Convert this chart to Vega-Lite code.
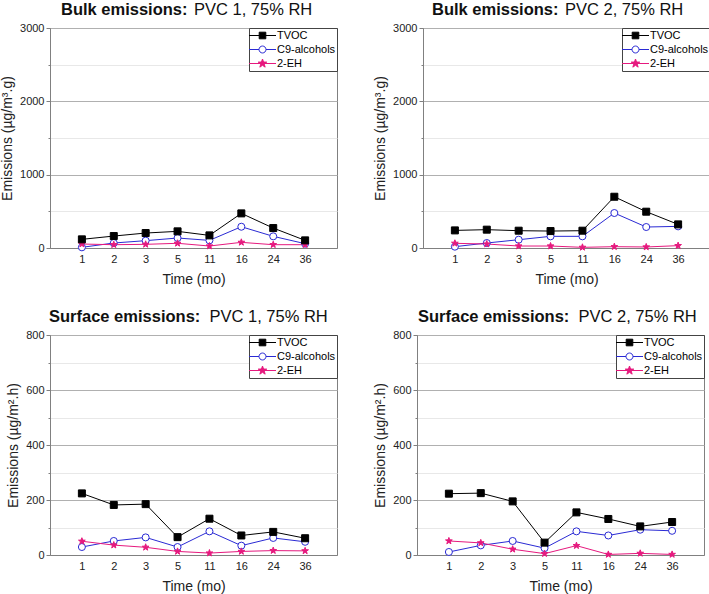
{
  "$schema": "https://vega.github.io/schema/vega-lite/v6.json",
  "padding": {"left": 0, "top": 1, "right": 0, "bottom": 0},
  "background": "white",
  "data": {"values": [
    {"panel":"B1","time":"1","series":"C9-alcohols","value":9},
    {"panel":"B1","time":"2","series":"C9-alcohols","value":68},
    {"panel":"B1","time":"3","series":"C9-alcohols","value":100},
    {"panel":"B1","time":"5","series":"C9-alcohols","value":136},
    {"panel":"B1","time":"11","series":"C9-alcohols","value":104},
    {"panel":"B1","time":"16","series":"C9-alcohols","value":290},
    {"panel":"B1","time":"24","series":"C9-alcohols","value":159},
    {"panel":"B1","time":"36","series":"C9-alcohols","value":59},
    {"panel":"B1","time":"1","series":"2-EH","value":54},
    {"panel":"B1","time":"2","series":"2-EH","value":45},
    {"panel":"B1","time":"3","series":"2-EH","value":50},
    {"panel":"B1","time":"5","series":"2-EH","value":64},
    {"panel":"B1","time":"11","series":"2-EH","value":27},
    {"panel":"B1","time":"16","series":"2-EH","value":77},
    {"panel":"B1","time":"24","series":"2-EH","value":45},
    {"panel":"B1","time":"36","series":"2-EH","value":45},
    {"panel":"B1","time":"1","series":"TVOC","value":118},
    {"panel":"B1","time":"2","series":"TVOC","value":163},
    {"panel":"B1","time":"3","series":"TVOC","value":204},
    {"panel":"B1","time":"5","series":"TVOC","value":227},
    {"panel":"B1","time":"11","series":"TVOC","value":172},
    {"panel":"B1","time":"16","series":"TVOC","value":472},
    {"panel":"B1","time":"24","series":"TVOC","value":272},
    {"panel":"B1","time":"36","series":"TVOC","value":104},

    {"panel":"B2","time":"1","series":"C9-alcohols","value":18},
    {"panel":"B2","time":"2","series":"C9-alcohols","value":68},
    {"panel":"B2","time":"3","series":"C9-alcohols","value":113},
    {"panel":"B2","time":"5","series":"C9-alcohols","value":159},
    {"panel":"B2","time":"11","series":"C9-alcohols","value":159},
    {"panel":"B2","time":"16","series":"C9-alcohols","value":477},
    {"panel":"B2","time":"24","series":"C9-alcohols","value":286},
    {"panel":"B2","time":"36","series":"C9-alcohols","value":295},
    {"panel":"B2","time":"1","series":"2-EH","value":64},
    {"panel":"B2","time":"2","series":"2-EH","value":54},
    {"panel":"B2","time":"3","series":"2-EH","value":27},
    {"panel":"B2","time":"5","series":"2-EH","value":27},
    {"panel":"B2","time":"11","series":"2-EH","value":9},
    {"panel":"B2","time":"16","series":"2-EH","value":18},
    {"panel":"B2","time":"24","series":"2-EH","value":14},
    {"panel":"B2","time":"36","series":"2-EH","value":32},
    {"panel":"B2","time":"1","series":"TVOC","value":240},
    {"panel":"B2","time":"2","series":"TVOC","value":250},
    {"panel":"B2","time":"3","series":"TVOC","value":236},
    {"panel":"B2","time":"5","series":"TVOC","value":231},
    {"panel":"B2","time":"11","series":"TVOC","value":236},
    {"panel":"B2","time":"16","series":"TVOC","value":699},
    {"panel":"B2","time":"24","series":"TVOC","value":495},
    {"panel":"B2","time":"36","series":"TVOC","value":322},

    {"panel":"S1","time":"1","series":"C9-alcohols","value":29},
    {"panel":"S1","time":"2","series":"C9-alcohols","value":51},
    {"panel":"S1","time":"3","series":"C9-alcohols","value":64},
    {"panel":"S1","time":"5","series":"C9-alcohols","value":29},
    {"panel":"S1","time":"11","series":"C9-alcohols","value":86},
    {"panel":"S1","time":"16","series":"C9-alcohols","value":34},
    {"panel":"S1","time":"24","series":"C9-alcohols","value":62},
    {"panel":"S1","time":"36","series":"C9-alcohols","value":48},
    {"panel":"S1","time":"1","series":"2-EH","value":50},
    {"panel":"S1","time":"2","series":"2-EH","value":36},
    {"panel":"S1","time":"3","series":"2-EH","value":28},
    {"panel":"S1","time":"5","series":"2-EH","value":13},
    {"panel":"S1","time":"11","series":"2-EH","value":7},
    {"panel":"S1","time":"16","series":"2-EH","value":13},
    {"panel":"S1","time":"24","series":"2-EH","value":16},
    {"panel":"S1","time":"36","series":"2-EH","value":15},
    {"panel":"S1","time":"1","series":"TVOC","value":224},
    {"panel":"S1","time":"2","series":"TVOC","value":182},
    {"panel":"S1","time":"3","series":"TVOC","value":185},
    {"panel":"S1","time":"5","series":"TVOC","value":65},
    {"panel":"S1","time":"11","series":"TVOC","value":132},
    {"panel":"S1","time":"16","series":"TVOC","value":71},
    {"panel":"S1","time":"24","series":"TVOC","value":84},
    {"panel":"S1","time":"36","series":"TVOC","value":61},

    {"panel":"S2","time":"1","series":"C9-alcohols","value":11},
    {"panel":"S2","time":"2","series":"C9-alcohols","value":35},
    {"panel":"S2","time":"3","series":"C9-alcohols","value":51},
    {"panel":"S2","time":"5","series":"C9-alcohols","value":25},
    {"panel":"S2","time":"11","series":"C9-alcohols","value":86},
    {"panel":"S2","time":"16","series":"C9-alcohols","value":71},
    {"panel":"S2","time":"24","series":"C9-alcohols","value":92},
    {"panel":"S2","time":"36","series":"C9-alcohols","value":88},
    {"panel":"S2","time":"1","series":"2-EH","value":51},
    {"panel":"S2","time":"2","series":"2-EH","value":44},
    {"panel":"S2","time":"3","series":"2-EH","value":21},
    {"panel":"S2","time":"5","series":"2-EH","value":5},
    {"panel":"S2","time":"11","series":"2-EH","value":34},
    {"panel":"S2","time":"16","series":"2-EH","value":2},
    {"panel":"S2","time":"24","series":"2-EH","value":6},
    {"panel":"S2","time":"36","series":"2-EH","value":2},
    {"panel":"S2","time":"1","series":"TVOC","value":223},
    {"panel":"S2","time":"2","series":"TVOC","value":225},
    {"panel":"S2","time":"3","series":"TVOC","value":195},
    {"panel":"S2","time":"5","series":"TVOC","value":45},
    {"panel":"S2","time":"11","series":"TVOC","value":155},
    {"panel":"S2","time":"16","series":"TVOC","value":131},
    {"panel":"S2","time":"24","series":"TVOC","value":104},
    {"panel":"S2","time":"36","series":"TVOC","value":120}
  ]},
  "resolve": {"scale": {"color": "independent", "stroke": "independent", "fill": "independent", "shape": "independent", "size": "independent"}, "legend": {"stroke": "independent", "fill": "independent", "shape": "independent"}},
  "vconcat": [
    {"resolve": {"scale": {"color": "independent", "stroke": "independent", "fill": "independent", "shape": "independent", "size": "independent"}, "legend": {"stroke": "independent", "fill": "independent", "shape": "independent"}},
     "hconcat": [
      {
        "width": 287, "height": 220,
        "title": {"text": "Bulk emissions:", "subtitle": "\u200b\u00a0\u00a0\u00a0\u00a0\u00a0\u00a0\u00a0\u00a0\u00a0\u00a0\u00a0\u00a0\u00a0\u00a0\u00a0\u00a0\u00a0\u00a0\u00a0\u00a0\u00a0\u00a0\u00a0\u00a0\u00a0\u00a0\u00a0\u00a0\u00a0PVC 1, 75% RH", "dx": 11},
        "transform": [{"filter": "datum.panel === 'B1'"}],
        "resolve": {"scale": {"shape": "independent", "stroke": "independent", "fill": "independent", "color": "independent"}},
        "encoding": {
          "x": {"field": "time", "type": "ordinal", "sort": ["1","2","3","5","11","16","24","36"], "scale": {"type": "point", "padding": 1}, "axis": {"title": "Time (mo)", "ticks": false, "grid": false, "labelAngle": 0, "labelPadding": 5.5, "titlePadding": 8}},
          "y": {"field": "value", "type": "quantitative", "scale": {"domain": [0, 3000], "nice": false}, "axis": {"title": "Emissions (µg/m³.g)", "values": [0,500,1000,1500,2000,2500,3000], "format": "d", "labelExpr": "datum.value % 1000 === 0 ? datum.label : ''", "gridColor": {"condition": {"test": "datum.value % 1000 === 0", "value": "#b0b0b0"}, "value": "#e8e8e8"}, "tickSize": {"condition": {"test": "datum.value % 1000 === 0", "value": 4}, "value": 2}, "titlePadding": 5}}
        },
        "layer": [
          {"mark": {"type": "line", "strokeWidth": 1},
           "encoding": {"color": {"field": "series", "type": "nominal", "scale": {"domain": ["TVOC","C9-alcohols","2-EH"], "range": ["#000000","#2a2ad4","#e6197e"]}, "legend": null}}},
          {"mark": {"type": "point", "opacity": 1, "strokeWidth": 1},
           "encoding": {
             "stroke": {"field": "series", "type": "nominal", "scale": {"domain": ["TVOC","C9-alcohols","2-EH"], "range": ["#000000","#2a2ad4","#e6197e"]}, "legend": null},
             "fill": {"field": "series", "type": "nominal", "scale": {"domain": ["TVOC","C9-alcohols","2-EH"], "range": ["#000000","#ffffff","#e6197e"]}, "legend": null},
             "shape": {"field": "series", "type": "nominal", "scale": {"domain": ["TVOC","C9-alcohols","2-EH"], "range": ["square","circle","M0,-1L0.235,-0.324L0.951,-0.309L0.38,0.124L0.588,0.809L0,0.4L-0.588,0.809L-0.38,0.124L-0.951,-0.309L-0.235,-0.324Z"]}, "legend": null},
             "size": {"field": "series", "type": "ordinal", "scale": {"domain": ["TVOC","C9-alcohols","2-EH"], "range": [49, 50, 81]}, "legend": null}
           }},
          {"mark": {"type": "point", "opacity": 0, "strokeWidth": 1},
           "encoding": {
             "stroke": {"field": "series", "type": "nominal", "scale": {"domain": ["TVOC","C9-alcohols","2-EH"], "range": ["#000000","#2a2ad4","#e6197e"]}},
             "fill": {"field": "series", "type": "nominal", "scale": {"domain": ["TVOC","C9-alcohols","2-EH"], "range": ["#000000","#ffffff","#e6197e"]}},
             "shape": {"field": "series", "type": "nominal", "scale": {"domain": ["TVOC","C9-alcohols","2-EH"], "range": ["M-2.25,0H2.25M-0.55,-0.55H0.55V0.55H-0.55Z","M-2.25,0H-0.58M0.58,0H2.25M0.58,0A0.58,0.58 0 1,1 -0.58,0A0.58,0.58 0 1,1 0.58,0Z","M-2.25,0H2.25M0,-0.75L0.176,-0.243L0.713,-0.232L0.285,0.093L0.441,0.607L0,0.3L-0.441,0.607L-0.285,0.093L-0.713,-0.232L-0.176,-0.243Z"]}}
           }}
        ]
      },
      {
        "width": 287, "height": 220,
        "title": {"text": "Bulk emissions:", "subtitle": "\u200b\u00a0\u00a0\u00a0\u00a0\u00a0\u00a0\u00a0\u00a0\u00a0\u00a0\u00a0\u00a0\u00a0\u00a0\u00a0\u00a0\u00a0\u00a0\u00a0\u00a0\u00a0\u00a0\u00a0\u00a0\u00a0\u00a0\u00a0\u00a0\u00a0PVC 2, 75% RH", "dx": 9},
        "transform": [{"filter": "datum.panel === 'B2'"}],
        "resolve": {"scale": {"shape": "independent", "stroke": "independent", "fill": "independent", "color": "independent"}},
        "encoding": {
          "x": {"field": "time", "type": "ordinal", "sort": ["1","2","3","5","11","16","24","36"], "scale": {"type": "point", "padding": 1}, "axis": {"title": "Time (mo)", "ticks": false, "grid": false, "labelAngle": 0, "labelPadding": 5.5, "titlePadding": 8}},
          "y": {"field": "value", "type": "quantitative", "scale": {"domain": [0, 3000], "nice": false}, "axis": {"title": "Emissions (µg/m³.g)", "values": [0,500,1000,1500,2000,2500,3000], "format": "d", "labelExpr": "datum.value % 1000 === 0 ? datum.label : ''", "gridColor": {"condition": {"test": "datum.value % 1000 === 0", "value": "#b0b0b0"}, "value": "#e8e8e8"}, "tickSize": {"condition": {"test": "datum.value % 1000 === 0", "value": 4}, "value": 2}, "titlePadding": 5}}
        },
        "layer": [
          {"mark": {"type": "line", "strokeWidth": 1},
           "encoding": {"color": {"field": "series", "type": "nominal", "scale": {"domain": ["TVOC","C9-alcohols","2-EH"], "range": ["#000000","#2a2ad4","#e6197e"]}, "legend": null}}},
          {"mark": {"type": "point", "opacity": 1, "strokeWidth": 1},
           "encoding": {
             "stroke": {"field": "series", "type": "nominal", "scale": {"domain": ["TVOC","C9-alcohols","2-EH"], "range": ["#000000","#2a2ad4","#e6197e"]}, "legend": null},
             "fill": {"field": "series", "type": "nominal", "scale": {"domain": ["TVOC","C9-alcohols","2-EH"], "range": ["#000000","#ffffff","#e6197e"]}, "legend": null},
             "shape": {"field": "series", "type": "nominal", "scale": {"domain": ["TVOC","C9-alcohols","2-EH"], "range": ["square","circle","M0,-1L0.235,-0.324L0.951,-0.309L0.38,0.124L0.588,0.809L0,0.4L-0.588,0.809L-0.38,0.124L-0.951,-0.309L-0.235,-0.324Z"]}, "legend": null},
             "size": {"field": "series", "type": "ordinal", "scale": {"domain": ["TVOC","C9-alcohols","2-EH"], "range": [49, 50, 81]}, "legend": null}
           }},
          {"mark": {"type": "point", "opacity": 0, "strokeWidth": 1},
           "encoding": {
             "stroke": {"field": "series", "type": "nominal", "scale": {"domain": ["TVOC","C9-alcohols","2-EH"], "range": ["#000000","#2a2ad4","#e6197e"]}},
             "fill": {"field": "series", "type": "nominal", "scale": {"domain": ["TVOC","C9-alcohols","2-EH"], "range": ["#000000","#ffffff","#e6197e"]}},
             "shape": {"field": "series", "type": "nominal", "scale": {"domain": ["TVOC","C9-alcohols","2-EH"], "range": ["M-2.25,0H2.25M-0.55,-0.55H0.55V0.55H-0.55Z","M-2.25,0H-0.58M0.58,0H2.25M0.58,0A0.58,0.58 0 1,1 -0.58,0A0.58,0.58 0 1,1 0.58,0Z","M-2.25,0H2.25M0,-0.75L0.176,-0.243L0.713,-0.232L0.285,0.093L0.441,0.607L0,0.3L-0.441,0.607L-0.285,0.093L-0.713,-0.232L-0.176,-0.243Z"]}}
           }}
        ]
      }
    ]},
    {"resolve": {"scale": {"color": "independent", "stroke": "independent", "fill": "independent", "shape": "independent", "size": "independent"}, "legend": {"stroke": "independent", "fill": "independent", "shape": "independent"}},
     "hconcat": [
      {
        "width": 287, "height": 220,
        "title": {"text": "Surface emissions:", "subtitle": "\u200b\u00a0\u00a0\u00a0\u00a0\u00a0\u00a0\u00a0\u00a0\u00a0\u00a0\u00a0\u00a0\u00a0\u00a0\u00a0\u00a0\u00a0\u00a0\u00a0\u00a0\u00a0\u00a0\u00a0\u00a0\u00a0\u00a0\u00a0\u00a0\u00a0\u00a0\u00a0\u00a0\u00a0\u00a0\u00a0PVC 1, 75% RH", "dx": -1},
        "transform": [{"filter": "datum.panel === 'S1'"}],
        "resolve": {"scale": {"shape": "independent", "stroke": "independent", "fill": "independent", "color": "independent"}},
        "encoding": {
          "x": {"field": "time", "type": "ordinal", "sort": ["1","2","3","5","11","16","24","36"], "scale": {"type": "point", "padding": 1}, "axis": {"title": "Time (mo)", "ticks": false, "grid": false, "labelAngle": 0, "labelPadding": 5.5, "titlePadding": 8}},
          "y": {"field": "value", "type": "quantitative", "scale": {"domain": [0, 800], "nice": false}, "axis": {"title": "Emissions (µg/m².h)", "values": [0,100,200,300,400,500,600,700,800], "format": "d", "labelExpr": "datum.value % 200 === 0 ? datum.label : ''", "gridColor": {"condition": {"test": "datum.value % 200 === 0", "value": "#b0b0b0"}, "value": "#e8e8e8"}, "tickSize": {"condition": {"test": "datum.value % 200 === 0", "value": 4}, "value": 2}, "titlePadding": 5}}
        },
        "layer": [
          {"mark": {"type": "line", "strokeWidth": 1},
           "encoding": {"color": {"field": "series", "type": "nominal", "scale": {"domain": ["TVOC","C9-alcohols","2-EH"], "range": ["#000000","#2a2ad4","#e6197e"]}, "legend": null}}},
          {"mark": {"type": "point", "opacity": 1, "strokeWidth": 1},
           "encoding": {
             "stroke": {"field": "series", "type": "nominal", "scale": {"domain": ["TVOC","C9-alcohols","2-EH"], "range": ["#000000","#2a2ad4","#e6197e"]}, "legend": null},
             "fill": {"field": "series", "type": "nominal", "scale": {"domain": ["TVOC","C9-alcohols","2-EH"], "range": ["#000000","#ffffff","#e6197e"]}, "legend": null},
             "shape": {"field": "series", "type": "nominal", "scale": {"domain": ["TVOC","C9-alcohols","2-EH"], "range": ["square","circle","M0,-1L0.235,-0.324L0.951,-0.309L0.38,0.124L0.588,0.809L0,0.4L-0.588,0.809L-0.38,0.124L-0.951,-0.309L-0.235,-0.324Z"]}, "legend": null},
             "size": {"field": "series", "type": "ordinal", "scale": {"domain": ["TVOC","C9-alcohols","2-EH"], "range": [49, 50, 81]}, "legend": null}
           }},
          {"mark": {"type": "point", "opacity": 0, "strokeWidth": 1},
           "encoding": {
             "stroke": {"field": "series", "type": "nominal", "scale": {"domain": ["TVOC","C9-alcohols","2-EH"], "range": ["#000000","#2a2ad4","#e6197e"]}},
             "fill": {"field": "series", "type": "nominal", "scale": {"domain": ["TVOC","C9-alcohols","2-EH"], "range": ["#000000","#ffffff","#e6197e"]}},
             "shape": {"field": "series", "type": "nominal", "scale": {"domain": ["TVOC","C9-alcohols","2-EH"], "range": ["M-2.25,0H2.25M-0.55,-0.55H0.55V0.55H-0.55Z","M-2.25,0H-0.58M0.58,0H2.25M0.58,0A0.58,0.58 0 1,1 -0.58,0A0.58,0.58 0 1,1 0.58,0Z","M-2.25,0H2.25M0,-0.75L0.176,-0.243L0.713,-0.232L0.285,0.093L0.441,0.607L0,0.3L-0.441,0.607L-0.285,0.093L-0.713,-0.232L-0.176,-0.243Z"]}}
           }}
        ]
      },
      {
        "width": 287, "height": 220,
        "title": {"text": "Surface emissions:", "subtitle": "\u200b\u00a0\u00a0\u00a0\u00a0\u00a0\u00a0\u00a0\u00a0\u00a0\u00a0\u00a0\u00a0\u00a0\u00a0\u00a0\u00a0\u00a0\u00a0\u00a0\u00a0\u00a0\u00a0\u00a0\u00a0\u00a0\u00a0\u00a0\u00a0\u00a0\u00a0\u00a0\u00a0\u00a0\u00a0\u00a0PVC 2, 75% RH", "dx": 1},
        "transform": [{"filter": "datum.panel === 'S2'"}],
        "resolve": {"scale": {"shape": "independent", "stroke": "independent", "fill": "independent", "color": "independent"}},
        "encoding": {
          "x": {"field": "time", "type": "ordinal", "sort": ["1","2","3","5","11","16","24","36"], "scale": {"type": "point", "padding": 1}, "axis": {"title": "Time (mo)", "ticks": false, "grid": false, "labelAngle": 0, "labelPadding": 5.5, "titlePadding": 8}},
          "y": {"field": "value", "type": "quantitative", "scale": {"domain": [0, 800], "nice": false}, "axis": {"title": "Emissions (µg/m².h)", "values": [0,100,200,300,400,500,600,700,800], "format": "d", "labelExpr": "datum.value % 200 === 0 ? datum.label : ''", "gridColor": {"condition": {"test": "datum.value % 200 === 0", "value": "#b0b0b0"}, "value": "#e8e8e8"}, "tickSize": {"condition": {"test": "datum.value % 200 === 0", "value": 4}, "value": 2}, "titlePadding": 5}}
        },
        "layer": [
          {"mark": {"type": "line", "strokeWidth": 1},
           "encoding": {"color": {"field": "series", "type": "nominal", "scale": {"domain": ["TVOC","C9-alcohols","2-EH"], "range": ["#000000","#2a2ad4","#e6197e"]}, "legend": null}}},
          {"mark": {"type": "point", "opacity": 1, "strokeWidth": 1},
           "encoding": {
             "stroke": {"field": "series", "type": "nominal", "scale": {"domain": ["TVOC","C9-alcohols","2-EH"], "range": ["#000000","#2a2ad4","#e6197e"]}, "legend": null},
             "fill": {"field": "series", "type": "nominal", "scale": {"domain": ["TVOC","C9-alcohols","2-EH"], "range": ["#000000","#ffffff","#e6197e"]}, "legend": null},
             "shape": {"field": "series", "type": "nominal", "scale": {"domain": ["TVOC","C9-alcohols","2-EH"], "range": ["square","circle","M0,-1L0.235,-0.324L0.951,-0.309L0.38,0.124L0.588,0.809L0,0.4L-0.588,0.809L-0.38,0.124L-0.951,-0.309L-0.235,-0.324Z"]}, "legend": null},
             "size": {"field": "series", "type": "ordinal", "scale": {"domain": ["TVOC","C9-alcohols","2-EH"], "range": [49, 50, 81]}, "legend": null}
           }},
          {"mark": {"type": "point", "opacity": 0, "strokeWidth": 1},
           "encoding": {
             "stroke": {"field": "series", "type": "nominal", "scale": {"domain": ["TVOC","C9-alcohols","2-EH"], "range": ["#000000","#2a2ad4","#e6197e"]}},
             "fill": {"field": "series", "type": "nominal", "scale": {"domain": ["TVOC","C9-alcohols","2-EH"], "range": ["#000000","#ffffff","#e6197e"]}},
             "shape": {"field": "series", "type": "nominal", "scale": {"domain": ["TVOC","C9-alcohols","2-EH"], "range": ["M-2.25,0H2.25M-0.55,-0.55H0.55V0.55H-0.55Z","M-2.25,0H-0.58M0.58,0H2.25M0.58,0A0.58,0.58 0 1,1 -0.58,0A0.58,0.58 0 1,1 0.58,0Z","M-2.25,0H2.25M0,-0.75L0.176,-0.243L0.713,-0.232L0.285,0.093L0.441,0.607L0,0.3L-0.441,0.607L-0.285,0.093L-0.713,-0.232L-0.176,-0.243Z"]}}
           }}
        ]
      }
    ]}
  ],
  "spacing": 21,
  "config": {
    "font": "Liberation Sans",
    "concat": {"spacing": 35},
    "view": {"stroke": "#808080", "strokeWidth": 1},
    "axis": {"domainColor": "#808080", "tickColor": "#808080", "labelFontSize": 11, "labelColor": "#222222", "titleFontSize": 14, "titleFontWeight": "normal", "titleColor": "#222222", "labelFont": "Liberation Sans", "titleFont": "Liberation Sans"},
    "title": {"anchor": "start", "frame": "group", "fontSize": 16.5, "fontWeight": "bold", "subtitleFontSize": 16.5, "subtitleFontWeight": "normal", "subtitlePadding": -16.5, "color": "#111111", "subtitleColor": "#111111", "offset": 4, "font": "Liberation Sans", "subtitleFont": "Liberation Sans"},
    "legend": {"orient": "top-right", "offset": 0, "padding": 1, "strokeColor": "#444444", "fillColor": "#ffffff", "title": null, "labelFontSize": 11, "labelColor": "#000000", "labelFont": "Liberation Sans", "symbolSize": 144, "symbolOffset": 6, "labelOffset": 8, "rowPadding": 2, "symbolStrokeWidth": 1, "symbolOpacity": 1}
  }
}
